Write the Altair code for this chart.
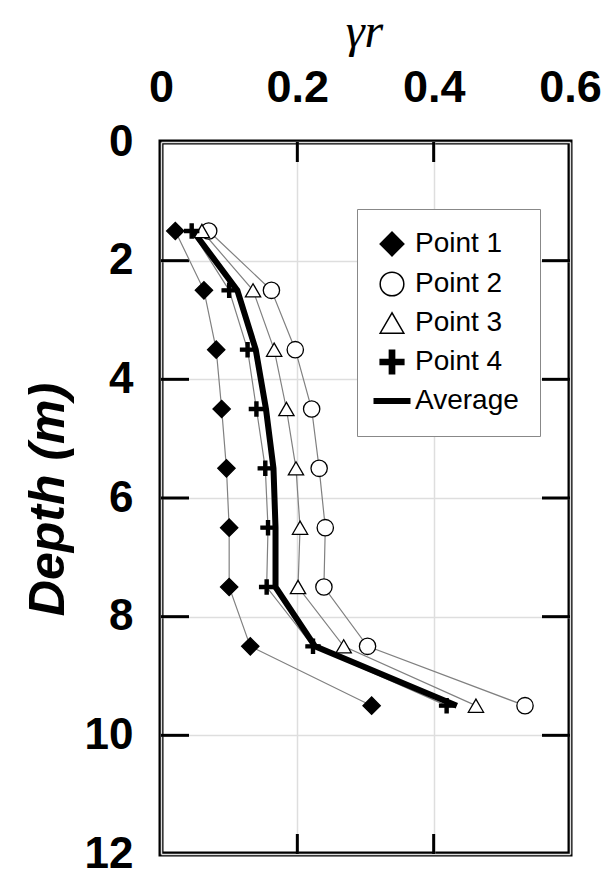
import altair as alt
import pandas as pd

depths = [1.5, 2.5, 3.5, 4.5, 5.5, 6.5, 7.5, 8.5, 9.5]
point1 = [0.021, 0.063, 0.081, 0.089, 0.096, 0.100, 0.100, 0.131, 0.309]
point2 = [0.070, 0.162, 0.197, 0.221, 0.232, 0.241, 0.239, 0.303, 0.534]
point3 = [0.060, 0.135, 0.166, 0.184, 0.198, 0.204, 0.201, 0.268, 0.462]
point4 = [0.045, 0.100, 0.127, 0.140, 0.153, 0.157, 0.155, 0.223, 0.419]
average = [0.047, 0.112, 0.139, 0.154, 0.165, 0.168, 0.168, 0.226, 0.434]

series_names = ["Point 1", "Point 2", "Point 3", "Point 4", "Average"]
x_ticks = [0, 0.2, 0.4, 0.6]
y_ticks = [0, 2, 4, 6, 8, 10, 12]
x_inner_ticks = [0.2, 0.4]
y_inner_ticks = [2, 4, 6, 8, 10]

rows = []
for name, vals in zip(series_names[:4], [point1, point2, point3, point4]):
    for d, v in zip(depths, vals):
        rows.append({"series": name, "depth": d, "gamma": v})
pts = pd.DataFrame(rows)
avg = pd.DataFrame({"series": "Average", "depth": depths, "gamma": average})

W, H = 409, 712
FONT = "Liberation Sans"

X = alt.X(
    "gamma:Q",
    scale=alt.Scale(domain=[0, 0.6], nice=False),
    axis=alt.Axis(
        orient="top", values=x_ticks, format="~g", title="γr",
        labelFont=FONT, labelFontSize=45, labelFontWeight="bold", labelColor="black",
        labelPadding=32, labelFlush=False, labelOverlap=False,
        ticks=False, domain=False,
        grid=True, gridColor="#dedede", gridWidth=1.5,
        titleFont="Liberation Serif", titleFontStyle="italic", titleFontWeight="normal",
        titleFontSize=48, titleColor="black",
        titleX=203, titleY=-110, titleBaseline="middle", titleAlign="center",
    ),
)
Y = alt.Y(
    "depth:Q",
    scale=alt.Scale(domain=[0, 12], reverse=True, nice=False),
    axis=alt.Axis(
        values=y_ticks, title="Depth (m)",
        labelFont=FONT, labelFontSize=44, labelFontWeight="bold", labelColor="black",
        labelPadding=28, labelFlush=False, labelOverlap=False,
        ticks=False, domain=False,
        grid=True, gridColor="#dedede", gridWidth=1.5,
        titleFont=FONT, titleFontStyle="italic", titleFontWeight="bold",
        titleFontSize=50, titleColor="black", titleAngle=270,
        titleX=-113, titleY=357, titleBaseline="middle", titleAlign="center",
    ),
)

shape_range = [
    "diamond",
    "circle",
    "triangle-up",
    "M-1,-0.22H-0.22V-1H0.22V-0.22H1V0.22H0.22V1H-0.22V0.22H-1Z",
    "M-1.5,-0.2H1.5V0.2H-1.5Z",
]
fill_range = ["black", "white", "white", "black", "black"]
stroke_range = ["black", "black", "black", "black", "black"]
size_range = [300, 200, 200, 230]

legend_def = alt.Legend(
    title=None, orient="none", legendX=196, legendY=67,
    padding=21, strokeColor="#888888", fillColor="white",
    labelFont=FONT, labelFontSize=28, labelColor="black", labelOffset=9,
    symbolSize=560, symbolStrokeColor="black", symbolStrokeWidth=1.5,
    rowPadding=10,
)

thin = alt.Chart(pts).mark_line(color="#808080", strokeWidth=1.2).encode(
    x=X, y=Y, detail="series:N", order="depth:Q"
)
thick = alt.Chart(avg).mark_line(color="black", strokeWidth=6).encode(
    x=X, y=Y, order="depth:Q"
)
points = alt.Chart(pts).mark_point(filled=True, strokeWidth=1.3, opacity=1).encode(
    x=X, y=Y,
    shape=alt.Shape("series:N", scale=alt.Scale(domain=series_names, range=shape_range),
                    legend=legend_def),
    fill=alt.Fill("series:N", scale=alt.Scale(domain=series_names, range=fill_range),
                  legend=legend_def),
    stroke=alt.Stroke("series:N", scale=alt.Scale(domain=series_names, range=stroke_range),
                      legend=legend_def),
    size=alt.Size("series:N", scale=alt.Scale(domain=series_names[:4], range=size_range),
                  legend=None),
)

ytick_df = pd.DataFrame({"depth": y_inner_ticks})
xtick_df = pd.DataFrame({"gamma": x_inner_ticks})
lt = alt.Chart(ytick_df).mark_rule(color="black", strokeWidth=3).encode(
    y=Y, x=alt.value(0), x2=alt.value(28))
rt = alt.Chart(ytick_df).mark_rule(color="black", strokeWidth=3).encode(
    y=Y, x=alt.value(W - 28), x2=alt.value(W))
tt = alt.Chart(xtick_df).mark_rule(color="black", strokeWidth=3).encode(
    x=X, y=alt.value(0), y2=alt.value(20))
bt = alt.Chart(xtick_df).mark_rule(color="black", strokeWidth=3).encode(
    x=X, y=alt.value(H - 20), y2=alt.value(H))

chart = alt.layer(lt, rt, tt, bt, thin, thick, points).properties(
    width=W, height=H,
    autosize=alt.AutoSizeParams(type="none"),
    padding={"left": 161, "top": 142, "right": 45, "bottom": 18},
    background="white",
).configure_view(
    stroke="black", strokeWidth=5
)

chart.save("out.html", embed_options={"renderer": "svg", "actions": False})
